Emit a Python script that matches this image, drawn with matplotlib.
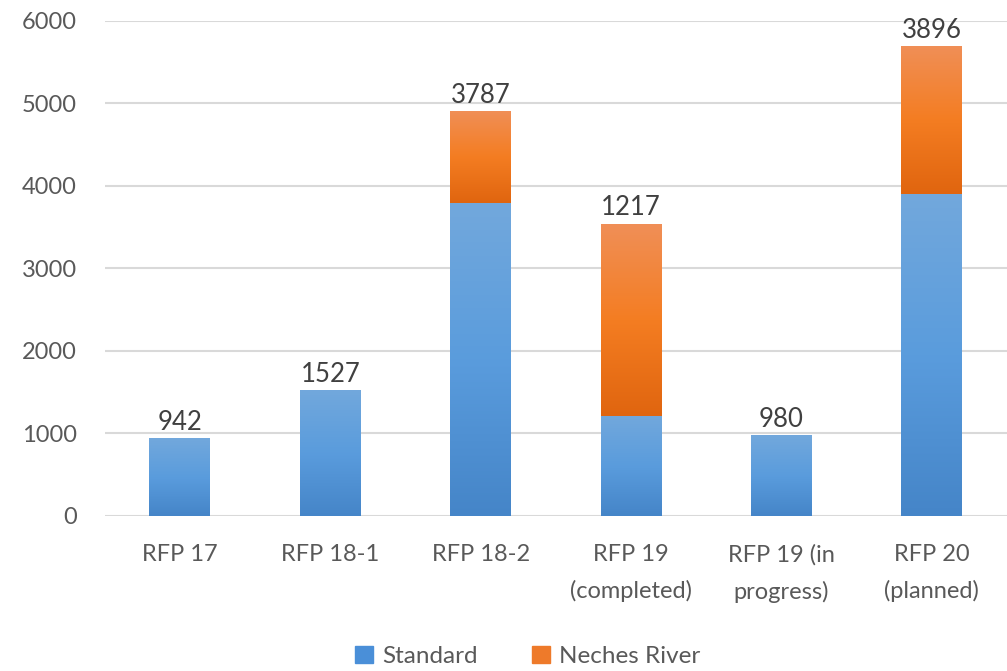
import numpy as np
import matplotlib
matplotlib.use("Agg")
from matplotlib import pyplot as plt
from matplotlib.colors import LinearSegmentedColormap
from matplotlib.patches import Patch

# data
categories = ['RFP 17', 'RFP 18-1', 'RFP 18-2', 'RFP 19\n(completed)',
              'RFP 19 (in\nprogress)', 'RFP 20\n(planned)']
standard = [942, 1527, 3787, 1217, 980, 3896]
neches = [0, 0, 1122, 2325, 0, 1800]

plt.rcParams['font.family'] = ['Lato', 'DejaVu Sans']

blue_cmap = LinearSegmentedColormap.from_list('b', ['#4585C8', '#5A9CDD', '#72A8DC'])
orange_cmap = LinearSegmentedColormap.from_list('o', ['#E0650F', '#F47D22', '#F08F57'])

fig = plt.figure(figsize=(10.07, 6.71), dpi=100)
ax = fig.add_axes([0.104, 0.231, 0.896, 0.7379])

x = np.arange(len(categories))
w = 0.405
b1 = ax.bar(x, standard, w, color='none', zorder=3)
b2 = ax.bar(x, neches, w, bottom=standard, color='none', zorder=3)

grad = np.linspace(0, 1, 256).reshape(-1, 1)
for bars, cmap in [(b1, blue_cmap), (b2, orange_cmap)]:
    for p in bars:
        h = p.get_height()
        if h <= 0:
            continue
        x0, y0 = p.get_x(), p.get_y()
        im = ax.imshow(grad, cmap=cmap, origin='lower', aspect='auto',
                       extent=[x0, x0 + p.get_width(), y0, y0 + h], zorder=3)
        im.set_clip_path(p)

# value labels above each stack (Standard values)
for i in range(len(categories)):
    top = standard[i] + neches[i]
    ax.annotate(str(standard[i]), (x[i], top), xytext=(0, 6),
                textcoords='offset points', ha='center', va='baseline',
                fontsize=18.5, color='#404040')

ax.set_xlim(-0.5, len(categories) - 0.5)
ax.set_ylim(0, 6000)
ax.set_yticks(np.arange(0, 6001, 1000))
ax.set_xticks(x)
ax.set_xticklabels(categories)
ax.yaxis.grid(True, color='#D9D9D9', linewidth=1.5, zorder=0)
ax.set_axisbelow(True)
for s in ['top', 'right', 'left', 'bottom']:
    ax.spines[s].set_visible(False)
ax.tick_params(axis='y', length=0, pad=20, labelsize=17, labelcolor='#595959')
ax.tick_params(axis='x', length=0, pad=20, labelsize=17, labelcolor='#595959')
for lbl in ax.get_xticklabels():
    lbl.set_linespacing(1.85)

handles = [Patch(color='#4A8FD8', label='Standard'),
           Patch(color='#EE7A2A', label='Neches River')]
fig.legend(handles=handles, loc='center', bbox_to_anchor=(0.524, 0.022),
           ncol=2, frameon=False, fontsize=17.5, handlelength=0.75,
           handleheight=0.75, handletextpad=0.4, columnspacing=2.2,
           labelcolor='#595959')

fig.savefig('out.png', dpi=100, facecolor='white')
